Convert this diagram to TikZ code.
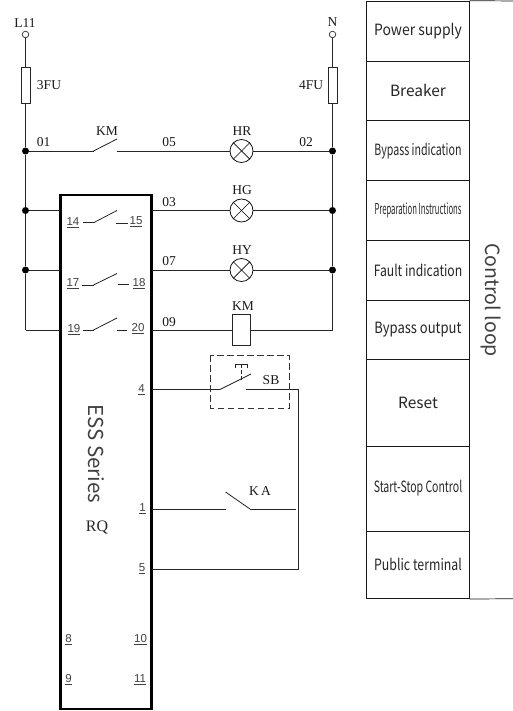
\documentclass[tikz,border=0pt]{standalone}
\usepackage{fontspec}
\usepackage{graphicx}
\setmainfont{Liberation Serif}
\newfontfamily\cjkf{Noto Sans CJK SC}
\newfontfamily\numf{Liberation Sans}
\newcommand{\cellfs}{\cjkf\fontsize{15.5}{17}\selectfont}
\tikzset{
  wire/.style={line width=0.75pt,draw=black!85},
  blade/.style={line width=0.75pt,draw=black!90},
  ser/.style={font=\fontsize{13.5}{15}\selectfont,inner sep=0pt,text=black!90},
  pin/.style={font=\numf\fontsize{11.5}{13}\selectfont,inner sep=0pt,text=black!75},
  junction/.style={circle,fill=black,inner sep=0pt,minimum size=7pt},
  terminal/.style={circle,draw=black!85,fill=white,line width=0.7pt,inner sep=0pt,minimum size=6.5pt},
  fuse/.style={rectangle,draw=black!85,line width=0.7pt,inner sep=0pt,minimum width=9pt,minimum height=36pt},
  coil/.style={rectangle,draw=black!85,line width=0.8pt,inner sep=0pt,minimum width=18.5pt,minimum height=31pt},
  lamp/.style={circle,draw=black,line width=0.75pt,inner sep=0pt,minimum size=23pt,
    path picture={\draw[line width=0.7pt] (path picture bounding box.center) ++(45:11.5) -- ++(225:23);
                  \draw[line width=0.7pt] (path picture bounding box.center) ++(135:11.5) -- ++(315:23);}},
  cell/.style={rectangle,draw=black!90,line width=0.7pt,inner sep=0pt,minimum width=102.5pt,font=\cellfs,text=black!85},
}
\begin{document}
\begin{tikzpicture}[x=1pt,y=-1pt]
\useasboundingbox (0,0) rectangle (513,711);
\fill[white] (0,0) rectangle (513,711);
% device box
\node[rectangle,draw=black,line width=2.6pt,inner sep=0pt,minimum width=91pt,minimum height=514pt] (ess) at (105.75,452) {};
\node[rotate=-90,font=\cjkf\fontsize{20.5}{22}\selectfont,inner sep=0pt,text=black!75] (essname) at (96,454) {ESS Series};
\node[font=\fontsize{16}{18}\selectfont,inner sep=0pt,text=black!85] (rq) at (97,527) {RQ};
% supply
\node[terminal] (l11) at (25.5,34.5) {};
\node[terminal] (n) at (332.5,34.5) {};
\node[fuse] (f3) at (25.5,85) {};
\node[fuse] (f4) at (332.5,85) {};
\node[junction] (j1l) at (25.5,151) {};
\node[junction] (j2l) at (25.5,210.5) {};
\node[junction] (j3l) at (25.5,270) {};
\coordinate (c4l) at (25.5,330);
\node[junction] (j1r) at (332.5,151) {};
\node[junction] (j2r) at (332.5,210.5) {};
\node[junction] (j3r) at (332.5,270) {};
\coordinate (c4r) at (332.5,330);
\draw[wire] (l11) -- (f3) -- (j1l) -- (j2l) -- (j3l) -- (c4l);
\draw[wire] (n) -- (f4) -- (j1r) -- (j2r) -- (j3r) -- (c4r);
% lamps and coil
\node[lamp] (hr) at (241.5,151) {};
\node[lamp] (hg) at (241.5,210.5) {};
\node[lamp] (hy) at (241.5,270) {};
\node[coil] (kmc) at (241.5,330) {};
% row 1
\coordinate (km1) at (93.5,151); \coordinate (km2) at (117,139); \coordinate (km3) at (116.5,151);
\draw[wire] (j1l) -- (km1);
\draw[blade] (km1) -- (km2);
\draw[wire] (km3) -- (hr);
\draw[wire] (hr) -- (j1r);
% row 2
\coordinate (bl2) at (60,210.5); \coordinate (br2) at (152,210.5);
\draw[wire] (j2l) -- (bl2);
\draw[wire] (br2) -- (hg);
\draw[wire] (hg) -- (j2r);
% row 3
\coordinate (bl3) at (60,270); \coordinate (br3) at (152,270);
\draw[wire] (j3l) -- (bl3);
\draw[wire] (br3) -- (hy);
\draw[wire] (hy) -- (j3r);
% row 4
\coordinate (bl4) at (60,330); \coordinate (br4) at (152,330);
\draw[wire] (c4l) -- (bl4);
\draw[wire] (br4) -- (kmc);
\draw[wire] (kmc) -- (c4r);
% internal contacts
\coordinate (a1) at (83,222.5); \coordinate (a2) at (94,222.5); \coordinate (a3) at (117,210.5); \coordinate (a4) at (116,223); \coordinate (a5) at (128,223);
\draw[wire] (a1) -- (a2); \draw[blade] (a2) -- (a3); \draw[wire] (a4) -- (a5);
\coordinate (b1) at (82,285); \coordinate (b2) at (93.5,285); \coordinate (b3) at (117,273.5); \coordinate (b4) at (117.5,284); \coordinate (b5) at (128.5,284);
\draw[wire] (b1) -- (b2); \draw[blade] (b2) -- (b3); \draw[wire] (b4) -- (b5);
\coordinate (d1) at (83,330); \coordinate (d2) at (93.5,330); \coordinate (d3) at (117,318); \coordinate (d4) at (116.5,330); \coordinate (d5) at (127,330);
\draw[wire] (d1) -- (d2); \draw[blade] (d2) -- (d3); \draw[wire] (d4) -- (d5);
% reset row
\coordinate (r0) at (152,389.5); \coordinate (r1) at (220,389.5); \coordinate (r2) at (251,374); \coordinate (r3) at (246,389.5); \coordinate (r4) at (298.5,389.5); \coordinate (r5) at (298.5,569); \coordinate (r6) at (152,569);
\draw[wire] (r0) -- (r1); \draw[blade] (r1) -- (r2);
\draw[wire] (r3) -- (r4) -- (r5) -- (r6);
\coordinate (ds1) at (210.5,355); \coordinate (ds2) at (289,408);
\draw[line width=0.75pt,draw=black!80,dash pattern=on 6.5pt off 3.5pt] (ds1) rectangle (ds2);
\coordinate (t1) at (235.5,368); \coordinate (t2) at (235.5,364); \coordinate (t3) at (247,364); \coordinate (t4) at (247,368); \coordinate (t5) at (241.2,364); \coordinate (t6) at (241.2,381);
\draw[line width=0.7pt,draw=black!85] (t1) -- (t2) -- (t3) -- (t4);
\draw[line width=0.6pt,draw=black!85,dash pattern=on 4pt off 2pt] (t5) -- (t6);
% KA row
\coordinate (k0) at (152,509); \coordinate (k1) at (226,509); \coordinate (k2) at (225.5,492); \coordinate (k3) at (250,509); \coordinate (k4) at (296,509);
\draw[wire] (k0) -- (k1); \draw[blade] (k2) -- (k3); \draw[wire] (k3) -- (k4);
% serif labels
\node[ser] (t01) at (43.5,142.5) {01};
\node[ser] (t05) at (169,142.5) {05};
\node[ser] (t02) at (306,142.5) {02};
\node[ser] (t03) at (169,202) {03};
\node[ser] (t07) at (169,261.5) {07};
\node[ser] (t09) at (169,322) {09};
\node[ser] (tkm1) at (107,131) {KM};
\node[ser] (thr) at (242,131) {HR};
\node[ser] (thg) at (242,190.5) {HG};
\node[ser] (thy) at (242,250) {HY};
\node[ser] (tkm2) at (243,306) {KM};
\node[ser] (tsb) at (271,380) {SB};
\node[ser] (tka) at (260,491) {K\,A};
\node[ser] (t3fu) at (49,85) {3FU};
\node[ser] (t4fu) at (311,85) {4FU};
\node[ser] (tl11) at (25,23.5) {L11};
\node[ser] (tn) at (332.5,22.5) {N};
% pins
\node[pin] (p14) at (73,223) {\underline{14}};
\node[pin] (p15) at (136,222) {\underline{15}};
\node[pin] (p17) at (73,284) {\underline{17}};
\node[pin] (p18) at (139,284) {\underline{18}};
\node[pin] (p19) at (74,329.5) {\underline{19}};
\node[pin] (p20) at (138,328.5) {\underline{20}};
\node[pin] (p4) at (141.5,390) {\underline{4}};
\node[pin] (p1) at (142.5,509) {\underline{1}};
\node[pin] (p5) at (142,569) {\underline{5}};
\node[pin] (p8) at (68.5,640) {\underline{8}};
\node[pin] (p10) at (140.5,640) {\underline{10}};
\node[pin] (p9) at (68.5,680) {\underline{9}};
\node[pin] (p11) at (140,680) {\underline{11}};
% table
\node[cell,minimum height=60pt] (c1) at (418,31) {\scalebox{0.9}[1]{Power supply}};
\node[cell,minimum height=59.7pt] (c2) at (418,90.85) {Breaker};
\node[cell,minimum height=60pt] (c3) at (418,150.7) {\scalebox{0.686}[1]{Bypass indication}};
\node[cell,minimum height=59.3pt] (c4) at (418,210.35) {\scalebox{0.497}[0.97]{Preparation Instructions}};
\node[cell,minimum height=60pt] (c5) at (418,270) {\scalebox{0.786}[1]{Fault indication}};
\node[cell,minimum height=59.7pt] (c6) at (418,329.85) {\scalebox{0.84}[1]{Bypass output}};
\node[cell,minimum height=86.3pt] (c7) at (418,402.85) {Reset};
\node[cell,minimum height=85pt] (c8) at (418,488.5) {\scalebox{0.677}[1]{Start-Stop Control}};
\node[cell,minimum height=67.7pt] (c9) at (418,564.85) {\scalebox{0.795}[1]{Public terminal}};
\coordinate (e1) at (513,1); \coordinate (e2) at (513,598.7);
\draw[line width=0.7pt,draw=black!90] (c1.north east) -- (e1);
\draw[line width=0.7pt,draw=black!90] (c9.south east) -- (e2);
\node[rotate=-90,font=\cjkf\fontsize{19.5}{21}\selectfont,inner sep=0pt,text=black!75] (loop) at (491,300) {Control loop};
\end{tikzpicture}
\end{document}
